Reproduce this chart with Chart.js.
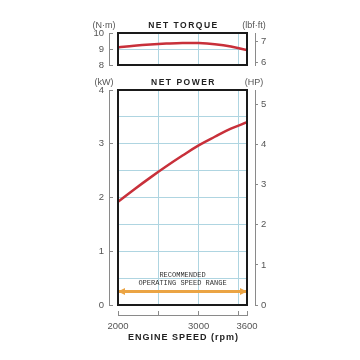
<!DOCTYPE html>
<html>
<head>
<meta charset="utf-8">
<script src="https://cdn.jsdelivr.net/npm/chart.js@4.4.1/dist/chart.umd.min.js"></script>
<style>
  html, body { margin: 0; padding: 0; background: #fff; }
  #wrap { position: relative; width: 360px; height: 360px; }
  #torqueCanvas { position: absolute; left: 0; top: 0; }
  #powerCanvas { position: absolute; left: 0; top: 72px; }
</style>
</head>
<body>
<div id="wrap">
  <canvas id="torqueCanvas" width="360" height="81"></canvas>
  <canvas id="powerCanvas" width="360" height="288"></canvas>
</div>
<script>
// engine speed (rpm)
var rpm = [2000, 2200, 2400, 2600, 2800, 3000, 3200, 3400, 3600];
var torqueNm = [9.1, 9.2, 9.28, 9.34, 9.38, 9.37, 9.3, 9.16, 8.93];
var powerKw = [1.92, 2.15, 2.37, 2.58, 2.78, 2.97, 3.13, 3.28, 3.40];

// recommended operating speed range
var rangeRpm = [2000, 3600];
var rangeLevel = 0.25;
var rangeLabel = ['RECOMMENDED', 'OPERATING SPEED RANGE'];

// ticks
var rpmTicks = [2000, 2500, 3000, 3500, 3600];
var rpmLabels = [2000, 3000, 3600];
var torqueTicks = [8, 9, 10];
var lbftTicks = [6, 7];
var kwTicks = [0, 0.5, 1, 1.5, 2, 2.5, 3, 3.5, 4];
var hpTicks = [0, 1, 2, 3, 4, 5];

var NM_PER_LBFT = 1.35582;
var KW_PER_HP = 0.7457;

var gridBlue = '#afd5e1';
var axisGrey = '#8a8a8a';
var tickFont = { family: 'Liberation Sans', size: 9.5 };

function setTicks(list) {
  return function(scale) {
    scale.ticks = list.map(function(v) { return { value: v }; });
  };
}
function fixWidth(w) {
  return function(scale) { scale.width = w; };
}
function fixHeight(h) {
  return function(scale) { scale.height = h; };
}

// frame, titles, units and the range arrow
var panelText = {
  id: 'panelText',
  afterDraw: function(chart, args, opts) {
    var ctx = chart.ctx;
    var a = chart.chartArea;
    var cx = (a.left + a.right) / 2;
    ctx.save();

    if (opts.arrow) {
      var meta = chart.getDatasetMeta(1);
      var p0 = meta.data[0], p1 = meta.data[meta.data.length - 1];
      ctx.fillStyle = '#eba444';
      ctx.beginPath();
      ctx.moveTo(p0.x, p0.y);
      ctx.lineTo(p0.x + 7, p0.y - 3.5);
      ctx.lineTo(p0.x + 7, p0.y + 3.5);
      ctx.closePath();
      ctx.fill();
      ctx.beginPath();
      ctx.moveTo(p1.x, p1.y);
      ctx.lineTo(p1.x - 7, p1.y - 3.5);
      ctx.lineTo(p1.x - 7, p1.y + 3.5);
      ctx.closePath();
      ctx.fill();

      var mid = chart.scales.x.getPixelForValue((rangeRpm[0] + rangeRpm[1]) / 2);
      ctx.fillStyle = '#333';
      ctx.font = '7px "Liberation Mono"';
      ctx.textAlign = 'center';
      ctx.textBaseline = 'middle';
      ctx.fillText(rangeLabel[0], mid, p0.y - 16.5);
      ctx.fillText(rangeLabel[1], mid, p0.y - 8.5);
    }

    ctx.strokeStyle = '#1a1a1a';
    ctx.lineWidth = 2;
    ctx.strokeRect(a.left, a.top, a.right - a.left, a.bottom - a.top);

    ctx.textBaseline = 'middle';
    ctx.textAlign = 'center';
    ctx.fillStyle = '#222';
    ctx.font = 'bold 8.5px "Liberation Sans"';
    ctx.letterSpacing = '1.5px';
    ctx.fillText(opts.title, cx + 1, a.top - 7.5);

    ctx.letterSpacing = '0px';
    ctx.fillStyle = '#555';
    ctx.font = '9px "Liberation Sans"';
    ctx.fillText(opts.leftUnit, chart.scales.y.right - 5, a.top - 7.5);
    ctx.fillText(opts.rightUnit, chart.scales.yR.left - 1, a.top - 7.5);

    if (opts.xTitle) {
      ctx.fillStyle = '#222';
      ctx.font = 'bold 9px "Liberation Sans"';
      ctx.letterSpacing = '1px';
      ctx.fillText(opts.xTitle, cx + 1, a.bottom + 33);
    }
    ctx.restore();
  }
};

function spacer(pos, size) {
  return {
    type: 'linear', position: pos, weight: 0,
    ticks: { display: false },
    grid: { display: false },
    border: { display: false },
    afterFit: pos === 'bottom' ? fixHeight(size) : fixWidth(size)
  };
}

var torqueChart = new Chart(document.getElementById('torqueCanvas'), {
  type: 'line',
  data: {
    datasets: [{
      data: rpm.map(function(r, i) { return { x: r, y: torqueNm[i] }; }),
      borderColor: '#c8303a',
      borderWidth: 2.5,
      pointRadius: 0,
      tension: 0.4,
      yAxisID: 'y'
    }]
  },
  plugins: [panelText],
  options: {
    responsive: false,
    animation: false,
    layout: { padding: { top: 33, bottom: 16, left: 80, right: 80 } },
    plugins: {
      legend: { display: false },
      tooltip: { enabled: false },
      panelText: { title: 'NET TORQUE', leftUnit: '(N·m)', rightUnit: '(lbf·ft)' }
    },
    scales: {
      x: {
        type: 'linear', min: 2000, max: 3600,
        afterBuildTicks: setTicks(rpmTicks),
        afterFit: fixHeight(0),
        ticks: { display: false },
        grid: { color: gridBlue, drawTicks: false },
        border: { display: false }
      },
      y: {
        position: 'left', weight: 1, min: 8, max: 10,
        afterBuildTicks: setTicks(torqueTicks),
        afterFit: fixWidth(29),
        ticks: { font: tickFont, color: '#555', padding: 9 },
        grid: { color: gridBlue, tickColor: axisGrey, tickLength: -4 },
        border: { color: axisGrey }
      },
      ySpacerL: spacer('left', 9),
      yR: {
        position: 'right', weight: 1,
        min: 8 / NM_PER_LBFT, max: 10 / NM_PER_LBFT,
        afterBuildTicks: setTicks(lbftTicks),
        afterFit: fixWidth(25),
        ticks: { font: tickFont, color: '#555', padding: 3 },
        grid: { drawOnChartArea: false, color: axisGrey, tickLength: 3 },
        border: { color: axisGrey }
      },
      ySpacerR: spacer('right', 8)
    }
  }
});

var powerChart = new Chart(document.getElementById('powerCanvas'), {
  type: 'line',
  data: {
    datasets: [{
      data: rpm.map(function(r, i) { return { x: r, y: powerKw[i] }; }),
      borderColor: '#c8303a',
      borderWidth: 2.5,
      pointRadius: 0,
      tension: 0.4,
      yAxisID: 'y'
    }, {
      data: rangeRpm.map(function(r) { return { x: r, y: rangeLevel }; }),
      borderColor: '#eba444',
      borderWidth: 3,
      pointRadius: 0,
      yAxisID: 'y'
    }]
  },
  plugins: [panelText],
  options: {
    responsive: false,
    animation: false,
    layout: { padding: { top: 18, bottom: 0, left: 80, right: 80 } },
    plugins: {
      legend: { display: false },
      tooltip: { enabled: false },
      panelText: { title: 'NET POWER', leftUnit: '(kW)', rightUnit: '(HP)', xTitle: 'ENGINE SPEED (rpm)', arrow: true }
    },
    scales: {
      x: {
        type: 'linear', position: 'bottom', weight: 1, min: 2000, max: 3600,
        afterBuildTicks: setTicks(rpmTicks),
        afterFit: fixHeight(45),
        ticks: {
          font: tickFont, color: '#555', padding: 10, autoSkip: false, maxRotation: 0,
          callback: function(v) { return rpmLabels.indexOf(v) >= 0 ? String(v) : ''; }
        },
        grid: { color: gridBlue, tickColor: axisGrey, tickLength: -4 },
        border: { color: axisGrey }
      },
      xSpacer: spacer('bottom', 10),
      y: {
        position: 'left', weight: 1, min: 0, max: 4,
        afterBuildTicks: setTicks(kwTicks),
        afterFit: fixWidth(29),
        ticks: {
          font: tickFont, color: '#555', padding: 9,
          callback: function(v) { return v % 1 === 0 ? String(v) : ''; }
        },
        grid: {
          color: gridBlue, tickLength: -4,
          tickColor: function(c) { return c.tick && c.tick.value % 1 === 0 ? axisGrey : 'rgba(0,0,0,0)'; }
        },
        border: { color: axisGrey }
      },
      ySpacerL: spacer('left', 9),
      yR: {
        position: 'right', weight: 1, min: 0, max: 4 / KW_PER_HP,
        afterBuildTicks: setTicks(hpTicks),
        afterFit: fixWidth(25),
        ticks: { font: tickFont, color: '#555', padding: 3 },
        grid: { drawOnChartArea: false, color: axisGrey, tickLength: 3 },
        border: { color: axisGrey }
      },
      ySpacerR: spacer('right', 8)
    }
  }
});
</script>
</body>
</html>
